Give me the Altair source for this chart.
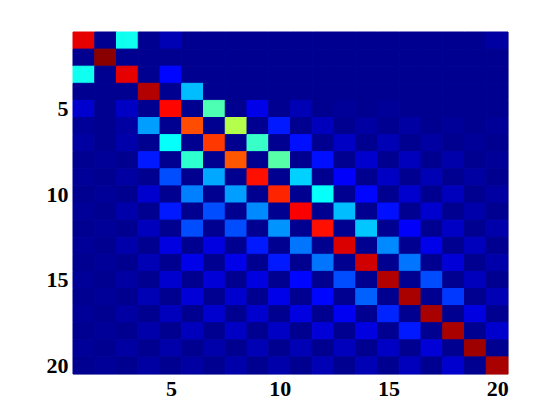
import altair as alt
import pandas as pd

row01 = [0.90, 0, 0.39, 0, 0.04, 0, 0, 0, 0, 0, 0, 0, 0, 0, 0, 0, 0, 0, 0, 0.02]
row02 = [0, 0.99, 0, 0, 0, 0, 0, 0, 0, 0, 0, 0, 0, 0, 0, 0, 0, 0, 0, 0]
row03 = [0.39, 0, 0.90, 0, 0.13, 0, 0, 0, 0, 0, 0, 0, 0, 0, 0, 0, 0, 0, 0, 0]
row04 = [0, 0, 0, 0.95, 0, 0.31, 0, 0, 0, 0, 0, 0, 0, 0, 0, 0, 0, 0, 0, 0]
row05 = [0.07, 0, 0.06, 0, 0.87, 0, 0.45, 0, 0.10, 0, 0.04, 0, 0.01, 0, 0.01, 0, 0, 0, 0, 0]
row06 = [0.01, 0, 0.02, 0.28, 0, 0.80, 0, 0.55, 0, 0.15, 0, 0.05, 0, 0.02, 0, 0.02, 0, 0.01, 0, 0.01]
row07 = [0.02, 0, 0.03, 0, 0.38, 0, 0.82, 0, 0.43, 0, 0.14, 0, 0.06, 0, 0.04, 0, 0.02, 0, 0.01, 0]
row08 = [0, 0.01, 0, 0.15, 0, 0.42, 0, 0.79, 0, 0.46, 0, 0.14, 0, 0.07, 0, 0.05, 0, 0.03, 0, 0.01]
row09 = [0.01, 0, 0.02, 0, 0.20, 0, 0.29, 0, 0.86, 0, 0.33, 0, 0.12, 0, 0.06, 0, 0.04, 0, 0.02, 0]
row10 = [0, 0.01, 0, 0.07, 0, 0.25, 0, 0.28, 0, 0.84, 0, 0.38, 0, 0.13, 0, 0.07, 0, 0.05, 0, 0.02]
row11 = [0.01, 0, 0.03, 0, 0.15, 0, 0.20, 0, 0.26, 0, 0.88, 0, 0.31, 0, 0.14, 0, 0.07, 0, 0.03, 0]
row12 = [0, 0.01, 0, 0.05, 0, 0.20, 0, 0.20, 0, 0.27, 0, 0.86, 0, 0.32, 0, 0.12, 0, 0.06, 0, 0.03]
row13 = [0.01, 0, 0.03, 0, 0.09, 0, 0.09, 0, 0.15, 0, 0.24, 0, 0.91, 0, 0.26, 0, 0.10, 0, 0.05, 0]
row14 = [0, 0.01, 0, 0.04, 0, 0.10, 0, 0.10, 0, 0.15, 0, 0.24, 0, 0.92, 0, 0.24, 0, 0.08, 0, 0.03]
row15 = [0.01, 0, 0.02, 0, 0.07, 0, 0.08, 0, 0.09, 0, 0.13, 0, 0.20, 0, 0.95, 0, 0.20, 0, 0.05, 0]
row16 = [0, 0.01, 0, 0.04, 0, 0.08, 0, 0.07, 0, 0.10, 0, 0.13, 0, 0.22, 0, 0.96, 0, 0.18, 0, 0.04]
row17 = [0.01, 0, 0.02, 0, 0.05, 0, 0.07, 0, 0.07, 0, 0.09, 0, 0.11, 0, 0.16, 0, 0.96, 0, 0.09, 0]
row18 = [0, 0.01, 0, 0.03, 0, 0.05, 0, 0.06, 0, 0.06, 0, 0.08, 0, 0.09, 0, 0.15, 0, 0.96, 0, 0.07]
row19 = [0.01, 0, 0.02, 0, 0.03, 0, 0.03, 0, 0.04, 0, 0.04, 0, 0.05, 0, 0.06, 0, 0.08, 0, 0.97, 0]
row20 = [0, 0.01, 0, 0.02, 0, 0.02, 0, 0.03, 0, 0.03, 0, 0.04, 0, 0.04, 0, 0.05, 0, 0.07, 0, 0.96]

rows = [row01, row02, row03, row04, row05, row06, row07, row08, row09, row10,
        row11, row12, row13, row14, row15, row16, row17, row18, row19, row20]
ticks = [5, 10, 15, 20]

records = []
for i, r in enumerate(rows, start=1):
    for j, v in enumerate(r, start=1):
        records.append({"row": i, "col": j, "v": v})
df = pd.DataFrame(records)
df["x0"] = df["col"] - 0.5
df["x1"] = df["col"] + 0.5
df["y0"] = df["row"] - 0.5
df["y1"] = df["row"] + 0.5

jet_domain = [0, 0.125, 0.375, 0.625, 0.875, 1.0]
jet_range = ["#000090", "#0000ff", "#00ffff", "#ffff00", "#ff0000", "#800000"]
jet = alt.Scale(domain=jet_domain, range=jet_range, interpolate="rgb")

font = "Liberation Serif"
axis_common = dict(values=ticks, grid=False, domain=False, ticks=False,
                   labelFont=font, labelFontSize=22, labelFontWeight="bold",
                   labelColor="black", title=None)

chart = alt.Chart(df).mark_rect(strokeWidth=1, opacity=1, strokeOpacity=1).encode(
    x=alt.X("x0:Q", scale=alt.Scale(domain=[0.5, 20.5], nice=False, zero=False),
            axis=alt.Axis(labelPadding=4, **axis_common)),
    x2="x1:Q",
    y=alt.Y("y0:Q", scale=alt.Scale(domain=[0.5, 20.5], nice=False, zero=False, reverse=True),
            axis=alt.Axis(labelPadding=5, **axis_common)),
    y2="y1:Q",
    color=alt.Color("v:Q", scale=jet, legend=None),
    stroke=alt.Stroke("v:Q", scale=jet, legend=None),
).properties(
    width=435, height=342,
    autosize=alt.AutoSizeParams(type="none"),
    padding={"left": 65, "top": 24, "right": 10, "bottom": 40},
).configure_view(stroke="black", strokeWidth=1, fill="#000090").configure(background="white")

chart.save("out.html", embed_options={"renderer": "svg", "actions": False})
